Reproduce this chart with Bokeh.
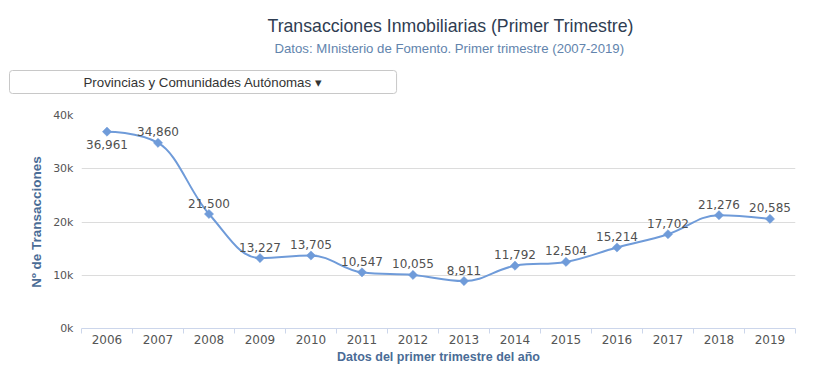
import math
from bokeh.plotting import figure
from bokeh.models import FixedTicker, Title, ColumnDataSource, LabelSet
from bokeh.core.properties import value
from bokeh.embed import file_html
from bokeh.resources import INLINE

# ---- data ----
years = ["2006", "2007", "2008", "2009", "2010", "2011", "2012",
         "2013", "2014", "2015", "2016", "2017", "2018", "2019"]
transactions = [36961, 34860, 21500, 13227, 13705, 10547, 10055,
                8911, 11792, 12504, 15214, 17702, 21276, 20585]
y_ticks = [0, 10000, 20000, 30000, 40000]
y_tick_labels = ["0k", "10k", "20k", "30k", "40k"]

title_text = "Transacciones Inmobiliarias (Primer Trimestre)"
subtitle_text = "Datos: MInisterio de Fomento. Primer trimestre (2007-2019)"
button_text = "Provincias y Comunidades Autónomas \u25BE"
y_title = "Nº de Transacciones"
x_title = "Datos del primer trimestre del año"

# label vertical offsets (style): first label sits below its point
label_dy = [-13] + [11] * (len(years) - 1)

LINE = "#6f9bd9"
xs = list(range(len(years)))
ys = transactions


def spline_controls(xv, yv, smoothing=1.5):
    n = len(xv)
    den = smoothing + 1
    lc = [(xv[i], yv[i]) for i in range(n)]
    rc = [(xv[i], yv[i]) for i in range(n)]
    for i in range(1, n - 1):
        px, py = xv[i], yv[i]
        lx, ly = xv[i - 1], yv[i - 1]
        nx, ny = xv[i + 1], yv[i + 1]
        lcx = (smoothing * px + lx) / den
        lcy = (smoothing * py + ly) / den
        rcx = (smoothing * px + nx) / den
        rcy = (smoothing * py + ny) / den
        if rcx != lcx:
            corr = ((rcy - lcy) * (rcx - px)) / (rcx - lcx) + py - rcy
            lcy += corr
            rcy += corr
        if lcy > ly and lcy > py:
            lcy = max(ly, py); rcy = 2 * py - lcy
        elif lcy < ly and lcy < py:
            lcy = min(ly, py); rcy = 2 * py - lcy
        if rcy > ny and rcy > py:
            rcy = max(ny, py); lcy = 2 * py - rcy
        elif rcy < ny and rcy < py:
            rcy = min(ny, py); lcy = 2 * py - rcy
        lc[i] = (lcx, lcy)
        rc[i] = (rcx, rcy)
    return lc, rc


lc, rc = spline_controls(xs, ys)
seg = ColumnDataSource(dict(
    x0=xs[:-1], y0=ys[:-1], x1=xs[1:], y1=ys[1:],
    cx0=[c[0] for c in rc[:-1]], cy0=[c[1] for c in rc[:-1]],
    cx1=[c[0] for c in lc[1:]], cy1=[c[1] for c in lc[1:]],
))
pts = ColumnDataSource(dict(x=xs, y=ys, lbl=[f"{v:,}" for v in ys], dy=label_dy))

p = figure(width=817, height=383, output_backend="svg", toolbar_location=None, title=None,
           x_range=(-0.5, len(years) - 0.5), y_range=(0, 40000),
           min_border_left=81, min_border_right=22, min_border_top=115, min_border_bottom=55)
p.outline_line_color = None
p.background_fill_color = "white"
p.border_fill_color = "white"

p.bezier(x0="x0", y0="y0", x1="x1", y1="y1", cx0="cx0", cy0="cy0", cx1="cx1", cy1="cy1",
         source=seg, line_color=LINE, line_width=2)
p.scatter(x="x", y="y", source=pts, marker="square", angle=math.pi / 4, size=6.5,
          fill_color=LINE, line_color=LINE, line_width=0.5)

labels = LabelSet(x="x", y="y", text="lbl", source=pts, y_offset="dy",
                  text_align="center", text_baseline="middle",
                  text_font=value("DejaVu Sans"), text_font_size="12px", text_color="#505050")
p.add_layout(labels)

# x axis
xa = p.xaxis[0]
xa.ticker = FixedTicker(ticks=xs, minor_ticks=[i - 0.5 for i in range(len(years) + 1)])
xa.major_label_overrides = {i: y for i, y in enumerate(years)}
xa.major_tick_line_color = None
xa.major_tick_out = 0
xa.minor_tick_line_color = "#ccd6eb"
xa.minor_tick_out = 5
xa.minor_tick_in = 0
xa.axis_line_color = "#ccd6eb"
xa.major_label_text_font = "DejaVu Sans"
xa.major_label_text_font_size = "12px"
xa.major_label_text_color = "#555555"
xa.major_label_standoff = 1
xa.axis_label = x_title
xa.axis_label_text_font = "Liberation Sans"
xa.axis_label_text_font_style = "bold"
xa.axis_label_text_font_size = "12.5px"
xa.axis_label_text_color = "#4a6c96"
xa.axis_label_standoff = 3

# y axis
ya = p.yaxis[0]
ya.ticker = FixedTicker(ticks=y_ticks)
ya.major_label_overrides = {t: l for t, l in zip(y_ticks, y_tick_labels)}
ya.axis_line_color = None
ya.major_tick_line_color = None
ya.major_tick_out = 0
ya.minor_tick_line_color = None
ya.major_label_text_font = "DejaVu Sans"
ya.major_label_text_font_size = "11px"
ya.major_label_text_color = "#555555"
ya.major_label_standoff = 8
ya.axis_label = y_title
ya.axis_label_text_font = "Liberation Sans"
ya.axis_label_text_font_style = "bold"
ya.axis_label_text_font_size = "13.5px"
ya.axis_label_text_color = "#4a6c96"
ya.axis_label_standoff = 6

p.xgrid.grid_line_color = None
p.ygrid.grid_line_color = "#dcdcdc"
p.ygrid.ticker = FixedTicker(ticks=y_ticks[1:])

# header stack (from the frame upward): spacer, selector button, spacer, subtitle, title
spacer1 = Title(text=" ", standoff=5, text_font="Liberation Sans", text_font_size="13px")
btn = Title(text=button_text, align="left", offset=-72, standoff=0,
            text_font="Liberation Sans", text_font_style="normal", text_font_size="13.3px",
            text_color="#333333", background_fill_color="white",
            border_line_color="#c8c8c8", border_radius=3,
            padding=dict(left=74, right=74, top=4, bottom=4))
spacer2 = Title(text=" ", standoff=0, text_font="Liberation Sans", text_font_size="7px")
sub = Title(text=subtitle_text, align="left", offset=193, standoff=7,
            text_font="Liberation Sans", text_font_style="normal", text_font_size="13.2px",
            text_color="#6284ad")
ttl = Title(text=title_text, align="left", offset=186, standoff=0,
            text_font="Liberation Sans", text_font_style="normal", text_font_size="17.7px",
            text_color="#2f3d52")
for t in (spacer1, btn, spacer2, sub, ttl):
    p.add_layout(t, "above")

open("out.html", "w").write(file_html(p, INLINE))
